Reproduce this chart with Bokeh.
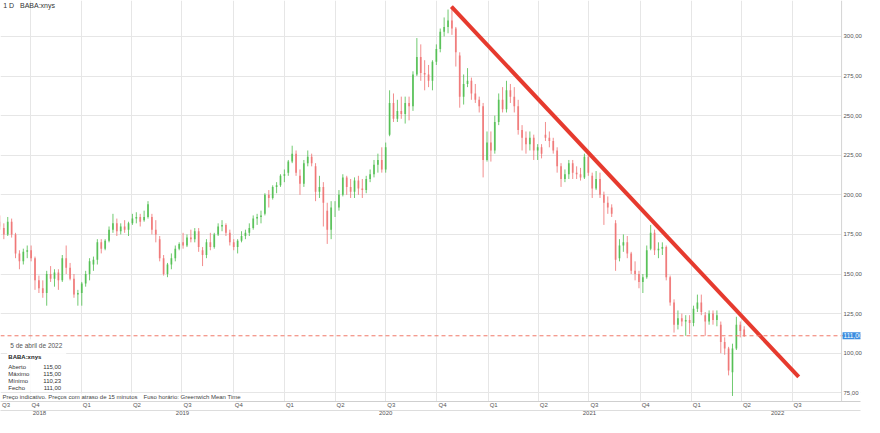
import pandas as pd
from bokeh.plotting import figure
from bokeh.models import (ColumnDataSource, Range1d, LinearAxis, FixedTicker, Span, Label,
                          BoxAnnotation, Grid, CustomJSTickFormatter)
from bokeh.embed import file_html
from bokeh.resources import INLINE

# ---------------- data (weekly candles) ----------------
week_start = pd.date_range("2018-08-06", "2022-04-04", freq="W-MON")

opens = [
    183, 179, 175, 183,                 # 2018 Aug
    175, 163, 158, 164,                 # Sep
    165, 160, 146, 141, 138,            # Oct
    150, 147, 151, 146,                 # Nov
    160, 154, 147, 137, 138,            # Dec
    144, 150, 156, 159,                 # 2019 Jan
    170, 166, 171, 178,                 # Feb
    182, 177, 180, 178,                 # Mar
    182, 185, 186, 184, 186,            # Apr
    186, 178, 172, 160,                 # May
    150, 156, 160, 166,                 # Jun
    170, 168, 173, 172, 177,            # Jul
    165, 162, 170, 167,                 # Aug
    175, 180, 181, 176, 170,            # Sep
    167, 171, 174, 176,                 # Oct
    179, 185, 186, 188,                 # Nov
    200, 198, 205, 206, 212,            # Dec
    214, 221, 226, 212,                 # 2020 Jan
    207, 220, 224, 218,                 # Feb
    202, 205, 190, 178, 192,            # Mar
    192, 200, 211, 205,                 # Apr
    202, 209, 204, 203,                 # May
    210, 213, 219, 222, 216,            # Jun
    238, 258, 248, 253,                 # Jul
    251, 258, 256, 276, 287,            # Aug
    277, 276, 272, 284,                 # Sep
    292, 303, 306, 310,                 # Oct
    305, 288, 262, 270, 272,            # Nov
    264, 260, 256, 222,                 # Dec
    233, 228, 246, 260,                 # 2021 Jan
    254, 266, 262, 256,                 # Feb
    241, 236, 232, 236, 228,            # Mar
    230, 238, 236, 234,                 # Apr
    228, 218, 210, 213, 220,            # May
    214, 213, 211, 224,                 # Jun
    212, 204, 210, 200,                 # Jul
    195, 192, 182, 160, 168,            # Aug
    170, 163, 152, 150,                 # Sep
    145, 148, 166, 176,                 # Oct
    165, 166, 167, 148, 132,            # Nov
    118, 122, 120, 121,                 # Dec
    119, 128, 132, 124, 120,            # 2022 Jan
    125, 121, 118, 107,                 # Feb
    103, 88, 103, 118,                  # Mar
    115,                                # Apr
]
highs = [
    187, 182, 186, 185,
    176, 165, 166, 168,
    168, 161, 149, 146, 152,
    155, 153, 153, 162,
    168, 157, 150, 140, 145,
    152, 160, 161, 172,
    172, 172, 180, 188,
    185, 182, 184, 183,
    188, 189, 188, 190, 196,
    188, 184, 174, 162,
    157, 163, 168, 170,
    176, 175, 178, 179, 179,
    167, 172, 176, 176,
    182, 184, 182, 178, 172,
    172, 177, 178, 182,
    187, 188, 190, 201,
    203, 206, 208, 213, 216,
    222, 231, 228, 216,
    222, 228, 226, 220,
    212, 208, 195, 196, 196,
    203, 213, 212, 210,
    211, 212, 210, 212,
    216, 222, 226, 230, 233,
    266, 264, 260, 262,
    262, 262, 278, 299, 295,
    285, 282, 285, 295,
    305, 312, 317, 319,
    306, 290, 276, 280, 274,
    270, 262, 258, 240,
    240, 250, 264, 268,
    272, 270, 268, 260,
    244, 240, 240, 238, 232,
    232, 246, 240, 236,
    230, 220, 216, 222, 222,
    218, 217, 226, 226,
    214, 215, 214, 202,
    199, 194, 184, 172, 175,
    174, 164, 158, 152,
    150, 168, 181, 178,
    170, 170, 168, 149, 134,
    127, 125, 124, 124,
    130, 137, 137, 126, 127,
    127, 127, 120, 110,
    104, 106, 123, 120,
    117,
]
lows = [
    178, 172, 174, 173,
    160, 153, 156, 160,
    158, 140, 138, 135, 130,
    145, 142, 140, 145,
    150, 146, 135, 130, 130,
    142, 146, 152, 156,
    163, 165, 170, 176,
    174, 175, 176, 174,
    181, 182, 180, 183, 185,
    175, 170, 158, 149,
    148, 153, 158, 165,
    166, 167, 170, 170, 164,
    155, 160, 165, 166,
    174, 177, 174, 168, 165,
    163, 170, 172, 174,
    178, 181, 182, 187,
    192, 197, 201, 205, 208,
    212, 220, 212, 200,
    205, 218, 218, 196,
    198, 180, 169, 172, 186,
    190, 199, 200, 198,
    198, 200, 198, 201,
    208, 211, 214, 214, 214,
    237, 246, 246, 248,
    245, 247, 253, 275, 272,
    266, 268, 266, 282,
    290, 300, 302, 301,
    281, 255, 257, 268, 260,
    258, 252, 211, 221,
    221, 226, 244, 252,
    252, 258, 252, 238,
    228, 226, 228, 222, 222,
    223, 234, 230, 226,
    214, 205, 208, 210, 210,
    210, 209, 210, 212,
    198, 203, 198, 181,
    188, 186, 152, 158, 164,
    160, 150, 146, 141,
    138, 147, 165, 162,
    160, 162, 146, 130, 113,
    115, 117, 111, 112,
    117, 126, 124, 111, 118,
    118, 117, 100, 99,
    86, 73, 102, 110,
    110.23,
]
closes = [
    180, 175, 183, 175,
    163, 158, 164, 165,
    160, 146, 141, 138, 150,
    147, 151, 146, 160,
    154, 147, 137, 138, 144,
    150, 158, 159, 170,
    166, 171, 178, 182,
    177, 180, 178, 182,
    185, 186, 183, 186, 194,
    178, 175, 160, 150,
    156, 160, 166, 169,
    168, 173, 172, 177, 167,
    162, 170, 167, 175,
    180, 181, 176, 170, 167,
    171, 174, 176, 179,
    185, 186, 187, 200,
    198, 205, 206, 212, 213,
    221, 226, 214, 207,
    220, 224, 220, 202,
    205, 195, 178, 192, 192,
    200, 211, 205, 202,
    209, 204, 203, 210,
    213, 219, 222, 216, 230,
    258, 248, 253, 251,
    258, 256, 276, 287, 277,
    276, 272, 284, 292,
    303, 306, 310, 305,
    290, 262, 270, 272, 264,
    260, 256, 222, 233,
    228, 246, 260, 254,
    266, 262, 256, 241,
    236, 232, 236, 228, 230,
    226, 236, 234, 228,
    218, 210, 213, 220, 214,
    213, 211, 224, 214,
    204, 210, 200, 195,
    192, 188, 159, 168, 170,
    163, 152, 150, 145,
    148, 165, 176, 165,
    166, 167, 148, 132, 118,
    122, 120, 121, 119,
    128, 132, 126, 120, 125,
    121, 124, 107, 103,
    89, 103, 118, 114,
    111,
]

trend_dates = ["2020-10-27", "2022-07-13"]
trend_values = [318.8, 85.0]
last_price = 111.0

y_ticks = [75, 100, 125, 150, 175, 200, 225, 250, 275, 300]
quarter_starts = pd.date_range("2018-10-01", "2022-07-01", freq="QS")
year_names = ["2018", "2019", "2020", "2021", "2022"]
year_label_dates = ["2018-10-18", "2019-07-02", "2020-07-01", "2021-07-02", "2022-06-05"]

info_date = "5 de abril de 2022"
info_symbol = "BABA:xnys"
info_names = ["Aberto", "Máximo", "Mínimo", "Fecho"]
info_values = ["115,00", "115,00", "110,23", "111,00"]
note_left = "Preço indicativo. Preços com atraso de 15 minutos"
note_right = "Fuso horário: Greenwich Mean Time"

# ---------------- build ----------------
origin = pd.Timestamp("2018-08-09")
end = pd.Timestamp("2022-09-28")
axis_day = (end - origin).days          # where the price scale starts
W, H = 864, 417
AXIS_PX = 845                           # px position of the price-scale line
x_end = axis_day * W / AXIS_PX
y_lo, y_hi = 69.5, 322.7


def day(d):
    return (pd.Timestamp(d) - origin).days


n = min(len(week_start), len(opens), len(highs), len(lows), len(closes))
df = pd.DataFrame({
    "x": [(w - origin).days + 2 for w in week_start[:n]],
    "open": opens[:n], "high": highs[:n], "low": lows[:n], "close": closes[:n],
})
inc = df["close"] >= df["open"]
up_color = "#4cbd4c"
dn_color = "#ef7070"

FONT = "Liberation Sans"

p = figure(width=W, height=H, x_range=Range1d(0, x_end), y_range=Range1d(y_lo, y_hi),
           x_axis_location=None, y_axis_location=None, output_backend="svg",
           toolbar_location=None, min_border_left=0, min_border_top=0,
           min_border_right=0, min_border_bottom=0)
p.outline_line_color = None
p.background_fill_color = "white"
for g in p.xgrid + p.ygrid:
    g.visible = False

q_ticks = [day(q) for q in quarter_starts]
p.add_layout(Grid(dimension=0, ticker=FixedTicker(ticks=q_ticks), grid_line_color="#e6e6e6"))
p.add_layout(Grid(dimension=1, ticker=FixedTicker(ticks=y_ticks), grid_line_color="#e6e6e6"))
# blank strip behind the price labels
p.add_layout(BoxAnnotation(left=axis_day, fill_color="white", fill_alpha=1.0,
                           line_color=None, level="underlay"))

for mask, col in ((inc, up_color), (~inc, dn_color)):
    src = ColumnDataSource(df[mask])
    p.segment("x", "high", "x", "low", source=src, line_color=col, line_width=1, line_alpha=0.8)
    p.vbar(x="x", width=3.2, top="open", bottom="close", source=src,
           fill_color=col, fill_alpha=0.8, line_color=None)

p.add_layout(Span(location=last_price, dimension="width", line_color="#f07868",
                  line_dash="4 3", line_width=1))
p.add_layout(Span(location=axis_day, dimension="height", line_color="#d4d4d4", line_width=1))

p.line([day(d) for d in trend_dates], trend_values, line_width=4, line_color="#e63a2e")

# right price axis (labels drawn just right of the price-scale line)
yaxis = LinearAxis(ticker=FixedTicker(ticks=y_ticks),
                   formatter=CustomJSTickFormatter(code="return tick.toFixed(2).replace('.', ',');"),
                   axis_line_color=None, major_tick_line_color=None,
                   major_tick_out=0, major_tick_in=0, minor_tick_out=0, minor_tick_in=0,
                   minor_tick_line_color=None,
                   major_label_standoff=-17, major_label_text_font=FONT,
                   major_label_text_font_size="6px", major_label_text_color="#555555")
p.add_layout(yaxis, "right")

# quarter row
q_label_ticks = [10] + [day(q) + 10 for q in quarter_starts]
q_labels = ["Q3"] + [f"Q{q.quarter}" for q in quarter_starts]
qaxis = LinearAxis(ticker=FixedTicker(ticks=q_label_ticks),
                   major_label_overrides={t: l for t, l in zip(q_label_ticks, q_labels)},
                   axis_line_color="#cfcfcf", major_tick_line_color=None,
                   major_tick_out=0, major_tick_in=0, minor_tick_out=0, minor_tick_in=0,
                   minor_tick_line_color=None, major_label_standoff=0,
                   major_label_text_font=FONT, major_label_text_font_size="6px",
                   major_label_text_color="#555555")
p.add_layout(qaxis, "below")

# year row
y_label_ticks = [day(d) for d in year_label_dates]
yraxis = LinearAxis(ticker=FixedTicker(ticks=y_label_ticks),
                    major_label_overrides={t: l for t, l in zip(y_label_ticks, year_names)},
                    axis_line_color="#dddddd", major_tick_line_color=None,
                    major_tick_out=0, major_tick_in=0, minor_tick_out=0, minor_tick_in=0,
                    minor_tick_line_color=None, major_label_standoff=0,
                    major_label_text_font=FONT, major_label_text_font_size="6px",
                    major_label_text_color="#555555")
p.add_layout(yraxis, "below")

# last price tag on the price scale
p.add_layout(Label(x=axis_day, y=last_price, x_offset=1, text="111,00",
                   text_font=FONT, text_font_size="6.5px", text_color="white",
                   text_baseline="middle", text_align="left", padding=1,
                   background_fill_color="#3b8de0"))

# title
p.add_layout(Label(x=5, y=319.6, text="1 D", text_font=FONT, text_font_size="7px",
                   text_color="#333333", text_baseline="middle"))
p.add_layout(Label(x=35, y=319.6, text="BABA:xnys", text_font=FONT, text_font_size="7px",
                   text_color="#333333", text_baseline="middle"))

# info box
p.add_layout(BoxAnnotation(left=12, right=118, bottom=75.8, top=108.8, fill_color="white",
                           fill_alpha=0.85, line_color=None))
p.add_layout(BoxAnnotation(left=0, right=423, bottom=y_lo, top=74.6, fill_color="white",
                           fill_alpha=0.85, line_color=None))
p.add_layout(Label(x=17.6, y=104.6, text=info_date, text_font=FONT, text_font_size="6.5px",
                   text_color="#555555", text_baseline="middle"))
p.add_layout(Label(x=14, y=97.7, text=info_symbol, text_font=FONT, text_font_size="6px",
                   text_font_style="bold", text_color="#222222", text_baseline="middle"))
row_y = [91.3, 87.0, 82.4, 78.0]
for nm, val, yy in zip(info_names, info_values, row_y):
    p.add_layout(Label(x=14, y=yy, text=nm, text_font=FONT, text_font_size="6px",
                       text_color="#333333", text_baseline="middle"))
    p.add_layout(Label(x=109, y=yy, text=val, text_font=FONT, text_font_size="6px",
                       text_color="#333333", text_baseline="middle", text_align="right"))
p.add_layout(Label(x=3.5, y=72.3, text=note_left, text_font=FONT, text_font_size="6px",
                   text_color="#444444", text_baseline="middle"))
p.add_layout(Label(x=257, y=72.3, text=note_right, text_font=FONT, text_font_size="6px",
                   text_color="#444444", text_baseline="middle"))

open("out.html", "w").write(file_html(p, INLINE))
